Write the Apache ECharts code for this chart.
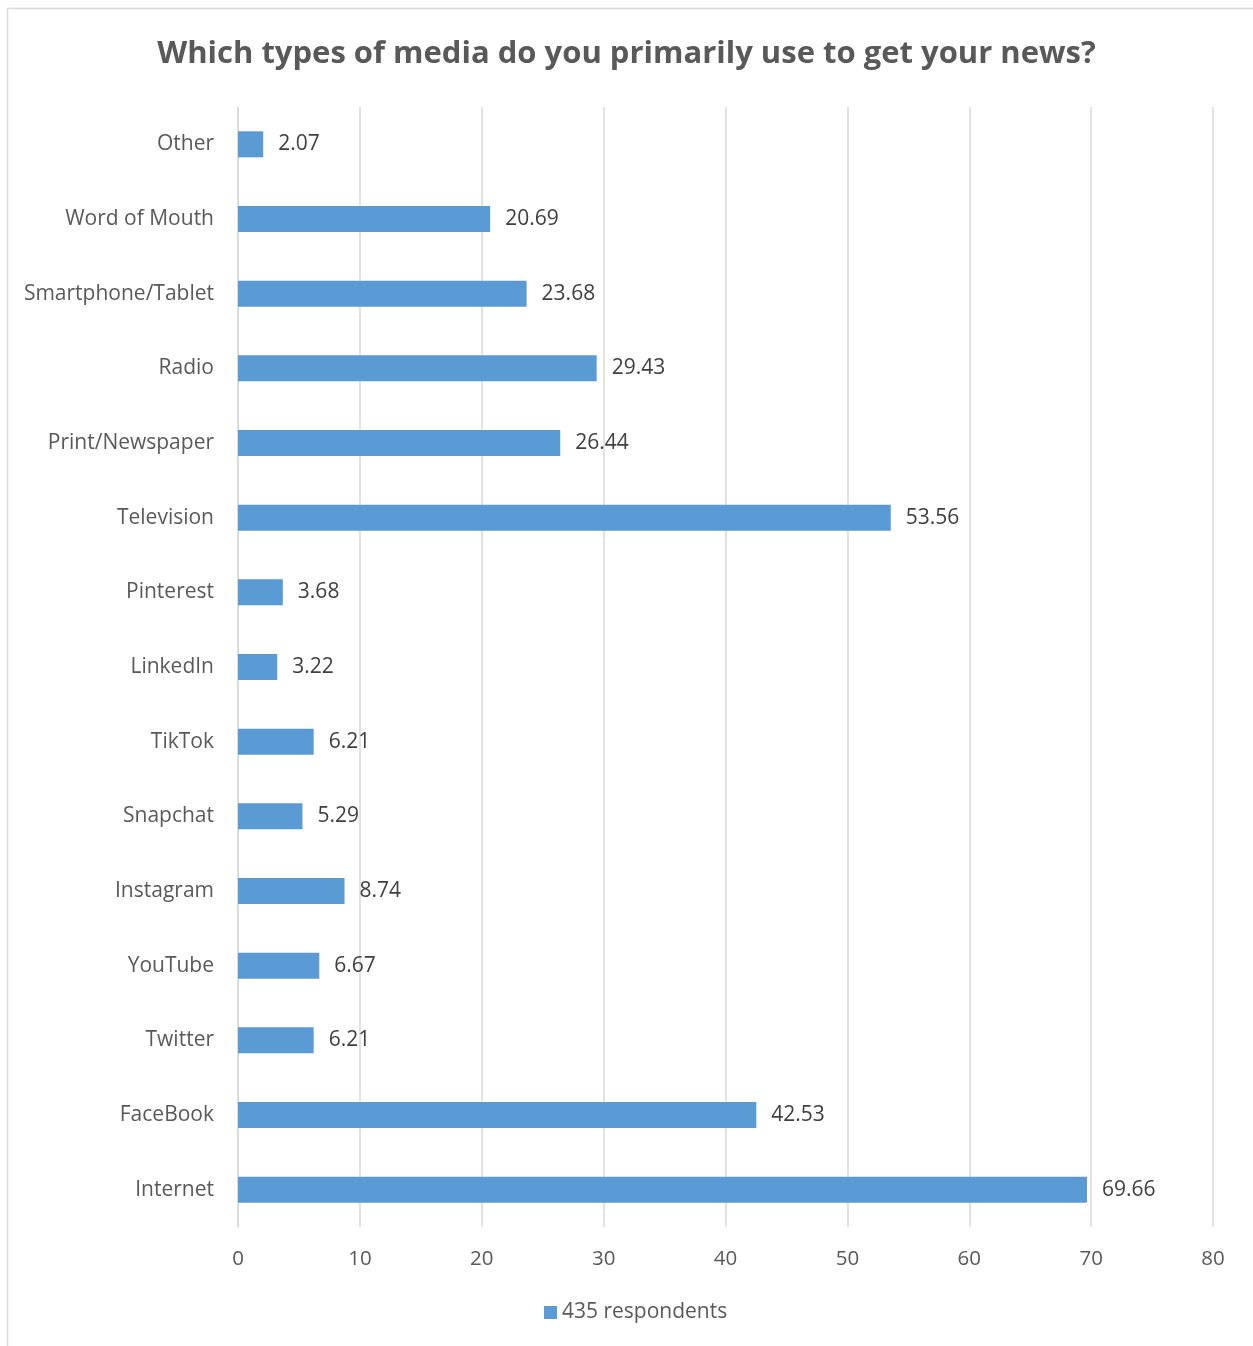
<!DOCTYPE html>
<html><head><meta charset="utf-8">
<script src="https://cdn.jsdelivr.net/npm/echarts@6/dist/echarts.min.js"></script>
<style>html,body{margin:0;padding:0;background:#fff}#c{width:1253px;height:1346px}</style>
</head><body><div id="c"></div>
<script>
const categories = ['Internet','FaceBook','Twitter','YouTube','Instagram','Snapchat','TikTok','LinkedIn','Pinterest','Television','Print/Newspaper','Radio','Smartphone/Tablet','Word of Mouth','Other'];
const values = [69.66,42.53,6.21,6.67,8.74,5.29,6.21,3.22,3.68,53.56,26.44,29.43,23.68,20.69,2.07];
const seriesName = '435 respondents';
const titleText = 'Which types of media do you primarily use to get your news?';

const FONT = 'Open Sans';
const chart = echarts.init(document.getElementById('c'), null, {renderer:'canvas'});
chart.setOption({
  animation:false,
  backgroundColor:'#fff',
  graphic:[{type:'rect',shape:{x:7.5,y:8.5,width:1300,height:1400},style:{fill:'none',stroke:'#d9d9d9',lineWidth:1.5}}],
  title:{text:titleText,left:'center',top:34,textStyle:{fontFamily:FONT,fontSize:31,fontWeight:'bold',color:'#595959'}},
  legend:{data:[seriesName],bottom:18,left:539,itemWidth:13,itemHeight:13,itemGap:6,icon:'rect',
    textStyle:{fontFamily:FONT,fontSize:21,color:'#595959'}},
  grid:{left:238,right:40,top:107,bottom:119,containLabel:false},
  xAxis:{type:'value',min:0,max:80,interval:10,
    axisLine:{show:false},axisTick:{show:false},
    splitLine:{show:true,lineStyle:{color:'#d9d9d9',width:1.5}},
    axisLabel:{fontFamily:FONT,fontSize:20.5,color:'#595959',margin:22}},
  yAxis:{type:'category',data:categories,
    axisLine:{show:true,lineStyle:{color:'#d9d9d9',width:1.5}},axisTick:{show:false},
    axisLabel:{fontFamily:FONT,fontSize:21,color:'#595959',margin:24,padding:[4,0,0,0]}},
  series:[{name:seriesName,type:'bar',data:values,barWidth:26,
    itemStyle:{color:'#5b9bd5'},
    label:{show:true,position:'right',distance:15,fontFamily:FONT,fontSize:21,color:'#404040',padding:[4,0,0,0]}}]
});
</script></body></html>
